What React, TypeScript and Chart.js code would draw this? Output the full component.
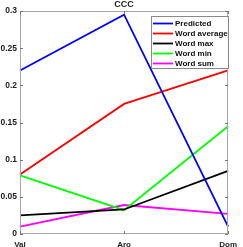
import React, { useEffect, useRef } from 'react';
import { Chart, registerables } from 'chart.js';
Chart.register(...registerables);

const categories = ['Val', 'Aro', 'Dom'];
const seriesNames = ['Predicted', 'Word average', 'Word max', 'Word min', 'Word sum'];
const predicted = [0.22, 0.295, 0.01];
const wordAverage = [0.08, 0.175, 0.22];
const wordMax = [0.025, 0.033, 0.085];
const wordMin = [0.079, 0.032, 0.145];
const wordSum = [0.01, 0.039, 0.027];
const seriesColors = ['#0000ff', '#ff0000', '#000000', '#00ff00', '#ff00ff'];
const yTicks = [0, 0.05, 0.1, 0.15, 0.2, 0.25, 0.3];
const titleText = 'CCC';

const FONT = '"Liberation Sans", Arial, sans-serif';

const boxPlugin = {
  id: 'matlabBox',
  afterDatasetsDraw(chart: any) {
    const { ctx, chartArea, scales } = chart;
    const { left, right, top, bottom } = chartArea;
    ctx.save();
    ctx.strokeStyle = '#a8a8a8';
    ctx.lineWidth = 1;
    ctx.strokeRect(Math.round(left) + 0.5, Math.round(top) + 0.5, Math.round(right - left) - 1, Math.round(bottom - top) - 1);
    ctx.strokeStyle = '#777';
    ctx.beginPath();
    scales.y.ticks.forEach((t: any) => {
      const y = Math.round(scales.y.getPixelForValue(t.value)) + 0.5;
      ctx.moveTo(left, y); ctx.lineTo(left + 3, y);
      ctx.moveTo(right, y); ctx.lineTo(right - 3, y);
    });
    categories.forEach((_, i) => {
      const x = Math.round(scales.x.getPixelForValue(i)) + 0.5;
      ctx.moveTo(x, bottom); ctx.lineTo(x, bottom - 3);
      ctx.moveTo(x, top); ctx.lineTo(x, top + 3);
    });
    ctx.stroke();

    // title
    ctx.fillStyle = '#222';
    ctx.font = `bold 9px ${FONT}`;
    ctx.textAlign = 'center';
    ctx.textBaseline = 'middle';
    ctx.fillText(titleText, (left + right) / 2, 5);

    // legend
    const lx = 151, ly = 16, lw = 78, lh = 53;
    ctx.fillStyle = '#ffffff';
    ctx.fillRect(lx, ly, lw, lh);
    ctx.strokeStyle = '#8a8a8a';
    ctx.strokeRect(lx + 0.5, ly + 0.5, lw - 1, lh - 1);
    ctx.font = `bold 8px ${FONT}`;
    ctx.textAlign = 'left';
    chart.data.datasets.forEach((ds: any, i: number) => {
      const y = ly + 7.5 + i * 10;
      ctx.strokeStyle = ds.borderColor;
      ctx.lineWidth = 1.8;
      ctx.beginPath();
      ctx.moveTo(lx + 2, y);
      ctx.lineTo(lx + 22, y);
      ctx.stroke();
      ctx.fillStyle = '#111';
      ctx.fillText(ds.label, lx + 24, y + 0.5);
    });
    ctx.restore();
  },
};

export default function App() {
  const ref = useRef<HTMLCanvasElement>(null);
  useEffect(() => {
    const series = [predicted, wordAverage, wordMax, wordMin, wordSum];
    const chart = new Chart(ref.current!, {
      type: 'line',
      data: {
        labels: categories,
        datasets: series.map((d, i) => ({
          label: seriesNames[i],
          data: d,
          borderColor: seriesColors[i],
          backgroundColor: seriesColors[i],
          borderWidth: 1.8,
          pointRadius: 0,
          tension: 0,
          fill: false,
        })),
      },
      options: {
        responsive: false,
        animation: false,
        layout: { padding: { top: 11, right: 10, left: 0, bottom: 0 } },
        plugins: { legend: { display: false }, title: { display: false }, tooltip: { enabled: false } },
        scales: {
          x: {
            type: 'category',
            offset: false,
            grid: { display: false, drawTicks: false },
            border: { display: false },
            ticks: { color: '#222', font: { family: FONT, size: 8, weight: 'bold' }, padding: 6, maxRotation: 0, autoSkip: false },
            afterFit: (s: any) => { s.height = 13; },
          },
          y: {
            min: 0,
            max: 0.3,
            afterBuildTicks: (s: any) => { s.ticks = yTicks.map((v) => ({ value: v })); },
            grid: { display: false, drawTicks: false },
            border: { display: false },
            ticks: {
              color: '#222',
              font: { family: FONT, size: 8.5, weight: 'bold' },
              padding: 3,
              callback: (v: any) => String(+Number(v).toFixed(2)),
            },
            afterFit: (s: any) => { s.width = 20; },
          },
        },
      },
      plugins: [boxPlugin],
    });
    return () => chart.destroy();
  }, []);
  return (
    <div style={{ position: 'fixed', left: 0, top: 0, width: 243, height: 247, background: '#fff' }}>
      <canvas ref={ref} width={243} height={247} style={{ display: 'block' }} />
    </div>
  );
}
